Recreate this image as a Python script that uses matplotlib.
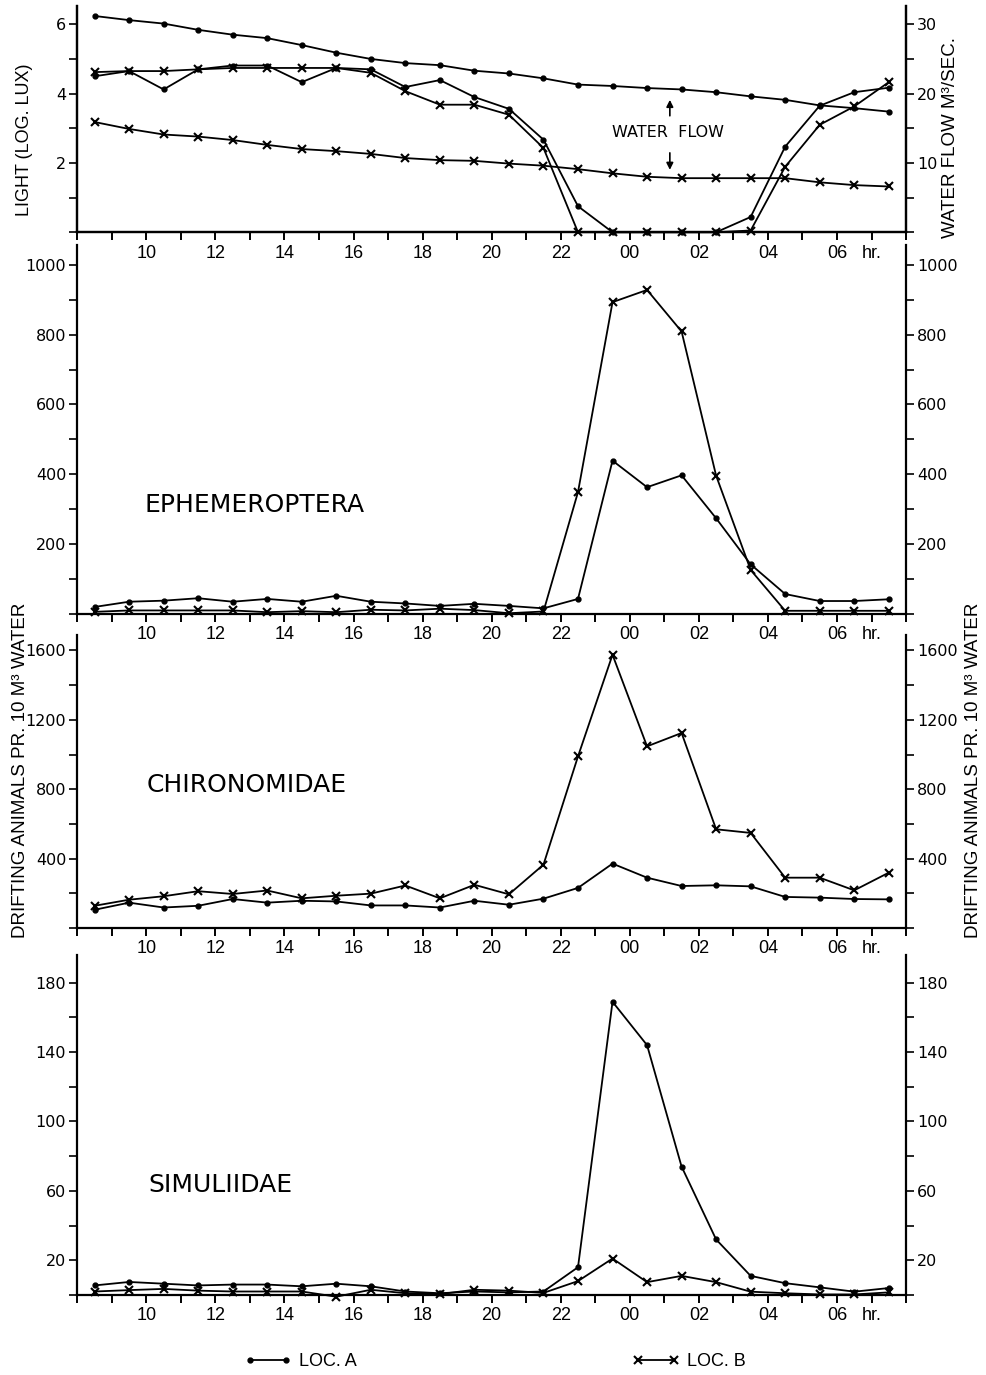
import matplotlib
matplotlib.use("Agg")
import matplotlib.pyplot as plt
import numpy as np

# sampling times: half-hour midpoints 08:30 .. 07:30 (next day), in hours
hours = np.arange(8.5, 32.0, 1.0)

# light (log lux)
light_a = [4.50, 4.65, 4.12, 4.70, 4.81, 4.81, 4.33, 4.74, 4.70, 4.19, 4.39, 3.90,
           3.56, 2.67, 0.75, 0.0, 0.0, 0.0, 0.0, 0.44, 2.47, 3.65, 4.04, 4.17]
light_b = [4.62, 4.65, 4.65, 4.70, 4.74, 4.74, 4.74, 4.74, 4.60, 4.07, 3.68, 3.68,
           3.39, 2.43, 0.0, 0.0, 0.0, 0.0, 0.0, 0.05, 1.89, 3.10, 3.63, 4.33]

# water flow (m3/sec)
flow_a = [31.2, 30.6, 30.1, 29.2, 28.5, 28.0, 27.0, 25.9, 25.0, 24.4, 24.1, 23.3,
          22.9, 22.2, 21.3, 21.1, 20.8, 20.6, 20.2, 19.6, 19.1, 18.3, 17.9, 17.4]
flow_b = [15.9, 14.9, 14.1, 13.8, 13.3, 12.6, 12.0, 11.7, 11.3, 10.7, 10.4, 10.3,
          9.9, 9.6, 9.1, 8.5, 8.0, 7.8, 7.8, 7.8, 7.8, 7.2, 6.8, 6.6]

# drifting animals pr. 10 m3 water
ephem_a = [20, 35, 38, 45, 35, 43, 35, 52, 35, 30, 23, 29,
           23, 16, 43, 439, 363, 397, 274, 142, 57, 37, 37, 42]
ephem_b = [6, 10, 10, 10, 10, 5, 8, 5, 12, 10, 15, 11,
           2, 7, 349, 893, 928, 809, 396, 126, 9, 9, 9, 9]

chiro_a = [105, 146, 118, 128, 167, 146, 157, 153, 130, 130, 118, 157,
           134, 169, 231, 371, 290, 242, 246, 240, 179, 175, 167, 165]
chiro_b = [128, 163, 183, 212, 196, 216, 171, 186, 198, 245, 171, 249,
           194, 365, 989, 1575, 1047, 1124, 569, 548, 290, 290, 217, 319]

simul_a = [5.5, 7.5, 6.5, 5.5, 6.0, 6.0, 5.0, 6.5, 5.0, 2.0, 1.0, 2.0,
           1.5, 2.0, 16, 169, 144, 74, 32, 11, 6.8, 4.4, 1.9, 4.0]
simul_b = [2.0, 2.8, 3.5, 2.5, 2.0, 2.0, 2.0, -1.0, 3.0, 1.0, 0.5, 3.0,
           2.5, 1.2, 8, 21, 7.4, 11, 7.4, 1.9, 1.0, 0.3, 0.3, 1.5]

narrow = "Liberation Sans"
plt.rcParams["font.family"] = "DejaVu Sans"

x_ticks = np.arange(8, 33)
x_labels = []
for h in x_ticks:
    if h == 31:
        x_labels.append("hr.")
    elif h % 2 == 0 and 10 <= h <= 30:
        x_labels.append("%02d" % (h % 24))
    else:
        x_labels.append("")


def fixed_labels(ticks, shown):
    return [str(t) if t in shown else "" for t in ticks]


def style(ax, ylim, yticks, ylabels, mirror=True):
    ax.patch.set_visible(False)
    ax.set_xlim(8, 32)
    ax.set_ylim(*ylim)
    ax.set_xticks(x_ticks)
    ax.set_xticklabels(x_labels, family=narrow, fontsize=13)
    ax.set_yticks(yticks)
    ax.set_yticklabels(ylabels, fontsize=11.5)
    ax.spines["top"].set_visible(False)
    for s in ax.spines.values():
        s.set_linewidth(1.6)
    ax.tick_params(axis="x", direction="out", length=6, width=1.4, pad=3)
    ax.tick_params(axis="y", direction="out", length=6, width=1.2, pad=2,
                   right=mirror, labelright=mirror)


def draw(ax, ya, yb):
    ax.plot(hours, ya, color="k", lw=1.3, marker="o", ms=3.5, clip_on=False,
            label="LOC. A")
    ax.plot(hours, yb, color="k", lw=1.3, marker="x", ms=6, mew=1.5,
            clip_on=False, label="LOC. B")


fig = plt.figure(figsize=(9.86, 13.75), dpi=100)
L, W = 0.0784, 0.8405

# ---------------- light / water flow ----------------
ax1 = fig.add_axes([L, 0.8311, W, 0.1646])
draw(ax1, light_a, light_b)
t = list(range(0, 7))
style(ax1, (0, 6.53), t, fixed_labels(t, [2, 4, 6]), mirror=False)
ax1.set_ylabel("LIGHT (LOG. LUX)", family=narrow, fontsize=13)
ax1.yaxis.set_label_coords(-0.053, 0.41)

ax1r = ax1.twinx()
ax1r.plot(hours, flow_a, color="k", lw=1.3, marker="o", ms=3.5)
ax1r.plot(hours, flow_b, color="k", lw=1.3, marker="x", ms=6, mew=1.5)
ax1r.set_ylim(0, 6.53 * 5)
t = list(range(0, 31, 5))
ax1r.set_yticks(t)
ax1r.set_yticklabels(fixed_labels(t, [10, 20, 30]), fontsize=11.5)
ax1r.spines["top"].set_visible(False)
for s in ax1r.spines.values():
    s.set_linewidth(1.6)
ax1r.tick_params(axis="y", direction="out", length=6, width=1.2, pad=2)
ax1r.set_ylabel("WATER FLOW M³/SEC.", family=narrow, fontsize=13.5)
ax1r.yaxis.set_label_coords(1.043, 0.42)

ax1.text(25.1, 2.89, "WATER  FLOW", ha="center", va="center", fontsize=11.5)
ax1.annotate("", xy=(25.16, 3.9), xytext=(25.16, 3.28),
             arrowprops=dict(arrowstyle="-|>", color="k", lw=1.2,
                             mutation_scale=10))
ax1.annotate("", xy=(25.16, 1.72), xytext=(25.16, 2.37),
             arrowprops=dict(arrowstyle="-|>", color="k", lw=1.2,
                             mutation_scale=10))

# ---------------- ephemeroptera ----------------
ax2 = fig.add_axes([L, 0.5535, W, 0.2684])
draw(ax2, ephem_a, ephem_b)
t = list(range(0, 1001, 100))
style(ax2, (0, 1057), t, fixed_labels(t, [200, 400, 600, 800, 1000]))
ax2.text(9.96, 312, "EPHEMEROPTERA", ha="left", va="center", fontsize=18)

# ---------------- chironomidae ----------------
ax3 = fig.add_axes([L, 0.3251, W, 0.2131])
draw(ax3, chiro_a, chiro_b)
t = list(range(0, 1601, 200))
style(ax3, (0, 1689), t, fixed_labels(t, [400, 800, 1200, 1600]))
ax3.text(10.02, 824, "CHIRONOMIDAE", ha="left", va="center", fontsize=18)

# ---------------- simuliidae ----------------
ax4 = fig.add_axes([L, 0.0582, W, 0.2473])
draw(ax4, simul_a, simul_b)
t = list(range(0, 181, 20))
style(ax4, (0, 196), t, fixed_labels(t, [20, 60, 100, 140, 180]))
ax4.text(10.05, 63.5, "SIMULIIDAE", ha="left", va="center", fontsize=18)

ylab = "DRIFTING ANIMALS PR. 10 M³ WATER"
fig.text(0.021, 0.44, ylab, rotation=90, ha="center", va="center",
         family=narrow, fontsize=13.5)
fig.text(0.987, 0.44, ylab, rotation=90, ha="center", va="center",
         family=narrow, fontsize=13.5)

handles, labels = ax2.get_legend_handles_labels()
fig.legend(handles, labels, loc="center", bbox_to_anchor=(0.502, 0.0095),
           ncol=2, frameon=False, numpoints=2, handlelength=2.6,
           handletextpad=0.4, columnspacing=15.3,
           prop={"family": narrow, "size": 13})

plt.savefig("out.png", dpi=100)
